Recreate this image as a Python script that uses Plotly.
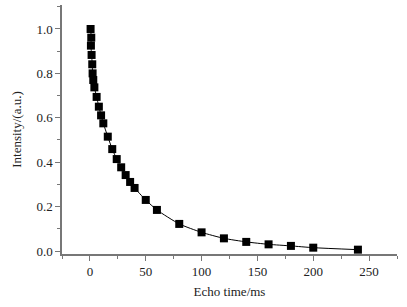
import plotly.graph_objects as go

echo_time = [0.6, 1.2, 0.9, 1.5, 2.1, 2.4, 3, 4, 6, 8, 10, 12, 16, 20, 24, 28, 32, 36, 40,
             50, 60, 80, 100, 120, 140, 160, 180, 200, 240]
intensity = [1.0, 0.961, 0.925, 0.883, 0.841, 0.800, 0.770, 0.737, 0.694, 0.650, 0.611, 0.575,
             0.515, 0.459, 0.414, 0.377, 0.342, 0.311, 0.284, 0.230, 0.185, 0.122, 0.084,
             0.057, 0.041, 0.030, 0.023, 0.015, 0.006]

fig = go.Figure()
fig.add_trace(go.Scatter(
    x=echo_time, y=intensity, mode="lines+markers",
    line=dict(color="black", width=1, shape="spline", smoothing=0.6),
    marker=dict(symbol="square", size=8, color="black"),
    showlegend=False,
))

font = dict(family="Liberation Serif", size=13, color="#222")
axis_color = "#777"
fig.update_layout(
    width=407, height=307,
    margin=dict(l=62, r=10, t=5, b=53),
    paper_bgcolor="white", plot_bgcolor="white",
    font=font,
    xaxis=dict(
        range=[-25, 275], tick0=0, dtick=50, showgrid=False, zeroline=False,
        showline=True, linecolor=axis_color, linewidth=1.5,
        ticks="outside", ticklen=5, tickcolor=axis_color, tickfont=font,
        minor=dict(dtick=25, ticks="outside", ticklen=3, tickcolor=axis_color),
        title=dict(text="Echo time/ms", font=font, standoff=9),
        automargin=False,
    ),
    yaxis=dict(
        range=[-0.0135, 1.108], tick0=0, dtick=0.2, tickformat=".1f",
        showgrid=False, zeroline=False,
        showline=True, linecolor=axis_color, linewidth=1.5,
        ticks="outside", ticklen=5, tickcolor=axis_color, tickfont=font,
        minor=dict(dtick=0.1, ticks="outside", ticklen=3, tickcolor=axis_color),
        title=dict(text="Intensity/(a.u.)", font=font, standoff=12),
        automargin=False,
    ),
)
fig.write_html("out.html", config={"displayModeBar": False},
               post_script="document.body.style.margin='0';")
